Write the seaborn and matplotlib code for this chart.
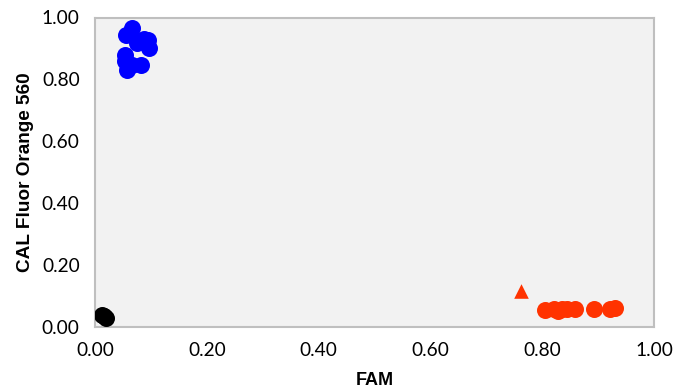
import matplotlib
matplotlib.use("Agg")
import matplotlib.pyplot as plt
import seaborn as sns
import pandas as pd

blue_x = [0.066, 0.055, 0.075, 0.087, 0.095, 0.097, 0.053, 0.053, 0.057, 0.066, 0.083]
blue_y = [0.965, 0.942, 0.918, 0.930, 0.928, 0.900, 0.878, 0.858, 0.830, 0.845, 0.848]
orange_x = [0.805, 0.822, 0.828, 0.836, 0.845, 0.858, 0.892, 0.922, 0.930]
orange_y = [0.056, 0.058, 0.052, 0.057, 0.058, 0.058, 0.057, 0.058, 0.063]
tri_x = [0.762]
tri_y = [0.117]
black_x = [0.012, 0.016, 0.019]
black_y = [0.040, 0.035, 0.030]
ticks = [0.0, 0.2, 0.4, 0.6, 0.8, 1.0]

sns.set_theme(style="white")
plt.rcParams['font.family'] = ['Lato', 'DejaVu Sans']

fig = plt.figure(figsize=(6.74, 3.90), dpi=100)
ax = fig.add_axes([95/674, 1-327/390, (654-95)/674, (327-17.5)/390])
ax.set_facecolor('#f2f2f2')

def df(x, y):
    return pd.DataFrame({'x': x, 'y': y})

kw = dict(s=150, linewidth=0, ax=ax, zorder=3)
sns.scatterplot(data=df(blue_x, blue_y), x='x', y='y', color='#0000ff', marker='o', **kw)
sns.scatterplot(data=df(orange_x, orange_y), x='x', y='y', color='#ff3300', marker='o', **kw)
sns.scatterplot(data=df(black_x, black_y), x='x', y='y', color='#000000', marker='o', **kw)
sns.scatterplot(data=df(tri_x, tri_y), x='x', y='y', color='#ff3300', marker='^', s=110, linewidth=0, ax=ax, zorder=3)

ax.set_xlim(0, 1)
ax.set_ylim(0, 1)
ax.set_xticks(ticks)
ax.set_yticks(ticks)
ax.set_xticklabels([f"{t:.2f}" for t in ticks], fontsize=13.8, color='#000000')
ax.set_yticklabels([f"{t:.2f}" for t in ticks], fontsize=13.8, color='#000000')
for s in ax.spines.values():
    s.set_color('#bfbfbf')
    s.set_linewidth(1.5)
ax.tick_params(axis='both', direction='out', length=5, width=1.2, color='#bfbfbf', pad=6)
ax.set_xlabel('FAM', fontsize=13, fontweight='bold', family='Liberation Sans', color='#000000', labelpad=9)
ax.set_ylabel('CAL Fluor Orange 560', fontsize=13.7, fontweight='bold', family='Liberation Sans', color='#000000', labelpad=6)

fig.savefig('out.png', dpi=100)
